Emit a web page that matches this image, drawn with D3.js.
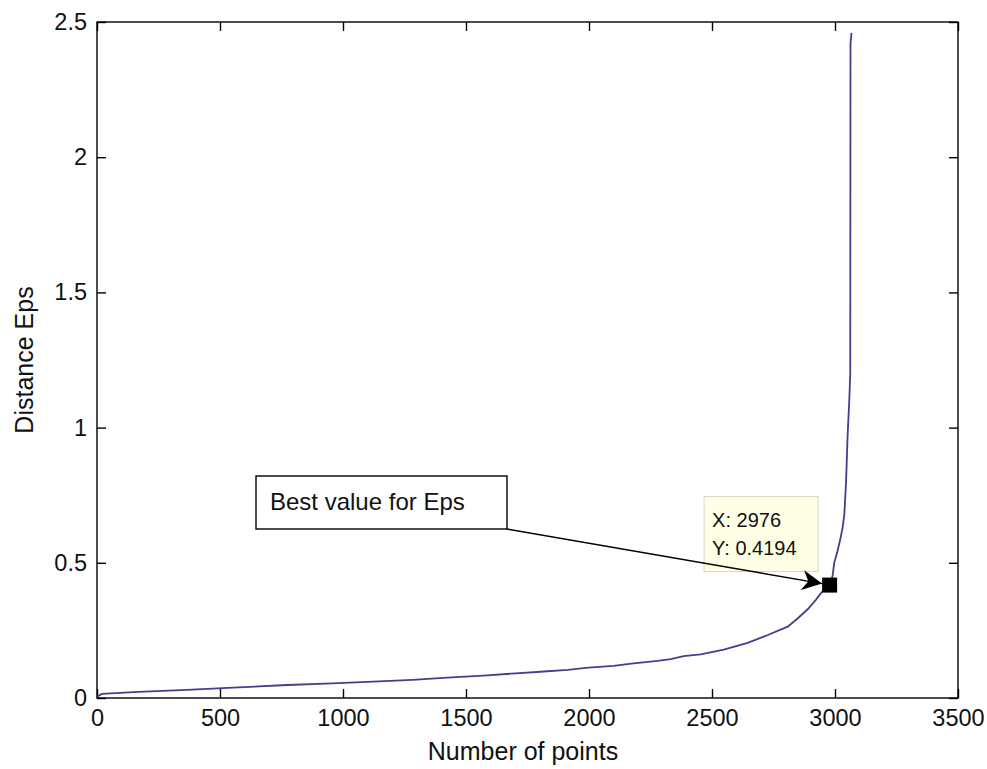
<!DOCTYPE html>
<html>
<head>
<meta charset="utf-8">
<script src="https://cdn.jsdelivr.net/npm/d3@7"></script>
<style>
  html, body { margin: 0; padding: 0; background: #fff; }
  svg { display: block; font-family: "Liberation Sans", Arial, sans-serif; }
</style>
</head>
<body>
<svg id="chart" width="987" height="769"></svg>
<script>
// Sorted k-distance curve: point index vs. distance to its k-th neighbour
const pointIndex = [0, 20, 167, 366, 553, 773, 956, 1099, 1192, 1282, 1424, 1571, 1701, 1803,
  1913, 1998, 2100, 2181, 2279, 2332, 2385, 2454, 2548, 2645, 2727, 2808, 2849, 2890, 2922,
  2943, 2976, 2990, 2997, 3010, 3021, 3031, 3038, 3045, 3051, 3058, 3062, 3063, 3067];
const distEps = [0.005, 0.015, 0.023, 0.030, 0.038, 0.048, 0.054, 0.060, 0.063, 0.067, 0.075,
  0.083, 0.091, 0.097, 0.104, 0.112, 0.119, 0.128, 0.137, 0.144, 0.155, 0.161, 0.179, 0.204,
  0.233, 0.264, 0.295, 0.329, 0.363, 0.388, 0.4194, 0.45, 0.50, 0.543, 0.585, 0.63, 0.68,
  0.80, 0.965, 1.10, 1.20, 2.42, 2.46];

const xTicks = [0, 500, 1000, 1500, 2000, 2500, 3000, 3500];
const yTicks = [0, 0.5, 1, 1.5, 2, 2.5];
const yTickLabels = ["0", "0.5", "1", "1.5", "2", "2.5"];

// Highlighted point with its data tip
const bestX = 2976;
const bestY = 0.4194;
const tipLines = ["X: 2976", "Y: 0.4194"];
const noteText = "Best value for Eps";

const xLabel = "Number of points";
const yLabel = "Distance Eps";

const svg = d3.select("#chart");
const plotL = 97, plotR = 958, plotT = 22, plotB = 698;

const x = d3.scaleLinear().domain([0, 3500]).range([plotL, plotR]);
const y = d3.scaleLinear().domain([0, 2.5]).range([plotB, plotT]);

const tickLen = 9;
const tickFont = 23.5;
const titleFont = 25;

// Axes with inward ticks on all four sides
const gx = svg.append("g").attr("transform", `translate(0,${plotB})`)
  .call(d3.axisBottom(x).tickValues(xTicks).tickFormat(d3.format("d"))
    .tickSizeInner(-tickLen).tickSizeOuter(0).tickPadding(11));
const gy = svg.append("g").attr("transform", `translate(${plotL},0)`)
  .call(d3.axisLeft(y).tickValues(yTicks).tickFormat((d, i) => yTickLabels[i])
    .tickSizeInner(-tickLen).tickSizeOuter(0).tickPadding(10));
const gt = svg.append("g").attr("transform", `translate(0,${plotT})`)
  .call(d3.axisTop(x).tickValues(xTicks).tickFormat("")
    .tickSizeInner(-tickLen).tickSizeOuter(0));
const gr = svg.append("g").attr("transform", `translate(${plotR},0)`)
  .call(d3.axisRight(y).tickValues(yTicks).tickFormat("")
    .tickSizeInner(-tickLen).tickSizeOuter(0));

[gx, gy, gt, gr].forEach(g => {
  g.select(".domain").remove();
  g.selectAll(".tick line").attr("stroke", "#000").attr("stroke-width", 1.4);
  g.selectAll(".tick text").attr("fill", "#111").attr("font-size", tickFont)
    .attr("font-family", "'Liberation Sans', Arial, sans-serif");
});

// Plot box
svg.append("rect")
  .attr("x", plotL).attr("y", plotT)
  .attr("width", plotR - plotL).attr("height", plotB - plotT)
  .attr("fill", "none").attr("stroke", "#000").attr("stroke-width", 1.4);

// Curve
const line = d3.line().x(d => x(d[0])).y(d => y(d[1]));
svg.append("path")
  .datum(pointIndex.map((v, i) => [v, distEps[i]]))
  .attr("d", line)
  .attr("fill", "none")
  .attr("stroke", "#40408e")
  .attr("stroke-width", 1.8);

// Axis titles
svg.append("text")
  .attr("x", 523).attr("y", 760)
  .attr("text-anchor", "middle").attr("font-size", titleFont).attr("fill", "#111")
  .text(xLabel);
svg.append("text")
  .attr("transform", `translate(33,${(plotT + plotB) / 2}) rotate(-90)`)
  .attr("text-anchor", "middle").attr("font-size", titleFont).attr("fill", "#111")
  .text(yLabel);

// Data tip box
const mx = x(bestX), my = y(bestY);
const tipBox = { x: mx - 125, y: my - 88, w: 114, h: 75 };
svg.append("rect")
  .attr("x", tipBox.x).attr("y", tipBox.y)
  .attr("width", tipBox.w).attr("height", tipBox.h)
  .attr("fill", "#ffffe6").attr("stroke", "#d8d6c4").attr("stroke-width", 1);
svg.selectAll(".tip")
  .data(tipLines).enter().append("text")
  .attr("class", "tip")
  .attr("x", tipBox.x + 8)
  .attr("y", (d, i) => tipBox.y + 30 + i * 28)
  .attr("font-size", 20).attr("fill", "#111")
  .text(d => d);

// Text annotation with arrow pointing at the highlighted point
const note = { x: 256, y: 476, w: 251, h: 53 };
svg.append("rect")
  .attr("x", note.x).attr("y", note.y)
  .attr("width", note.w).attr("height", note.h)
  .attr("fill", "#fff").attr("stroke", "#000").attr("stroke-width", 1.4);
svg.append("text")
  .attr("x", note.x + 14).attr("y", note.y + 34)
  .attr("font-size", 24).attr("fill", "#111")
  .text(noteText);

svg.append("defs").append("marker")
  .attr("id", "arrowhead")
  .attr("viewBox", "0 0 20 20")
  .attr("refX", 20).attr("refY", 10)
  .attr("markerWidth", 20).attr("markerHeight", 20)
  .attr("markerUnits", "userSpaceOnUse")
  .attr("orient", "auto")
  .append("path")
  .attr("d", "M0,0 L20,10 L0,20 L6,10 Z")
  .attr("fill", "#000");

const ax0 = note.x + note.w, ay0 = note.y + note.h;
svg.append("line")
  .attr("x1", ax0).attr("y1", ay0)
  .attr("x2", mx - 7).attr("y2", my - 1)
  .attr("stroke", "#000").attr("stroke-width", 1.4)
  .attr("marker-end", "url(#arrowhead)");

// Highlight marker
svg.append("rect")
  .attr("x", mx - 7).attr("y", my - 7)
  .attr("width", 15).attr("height", 15)
  .attr("fill", "#000");
</script>
</body>
</html>
